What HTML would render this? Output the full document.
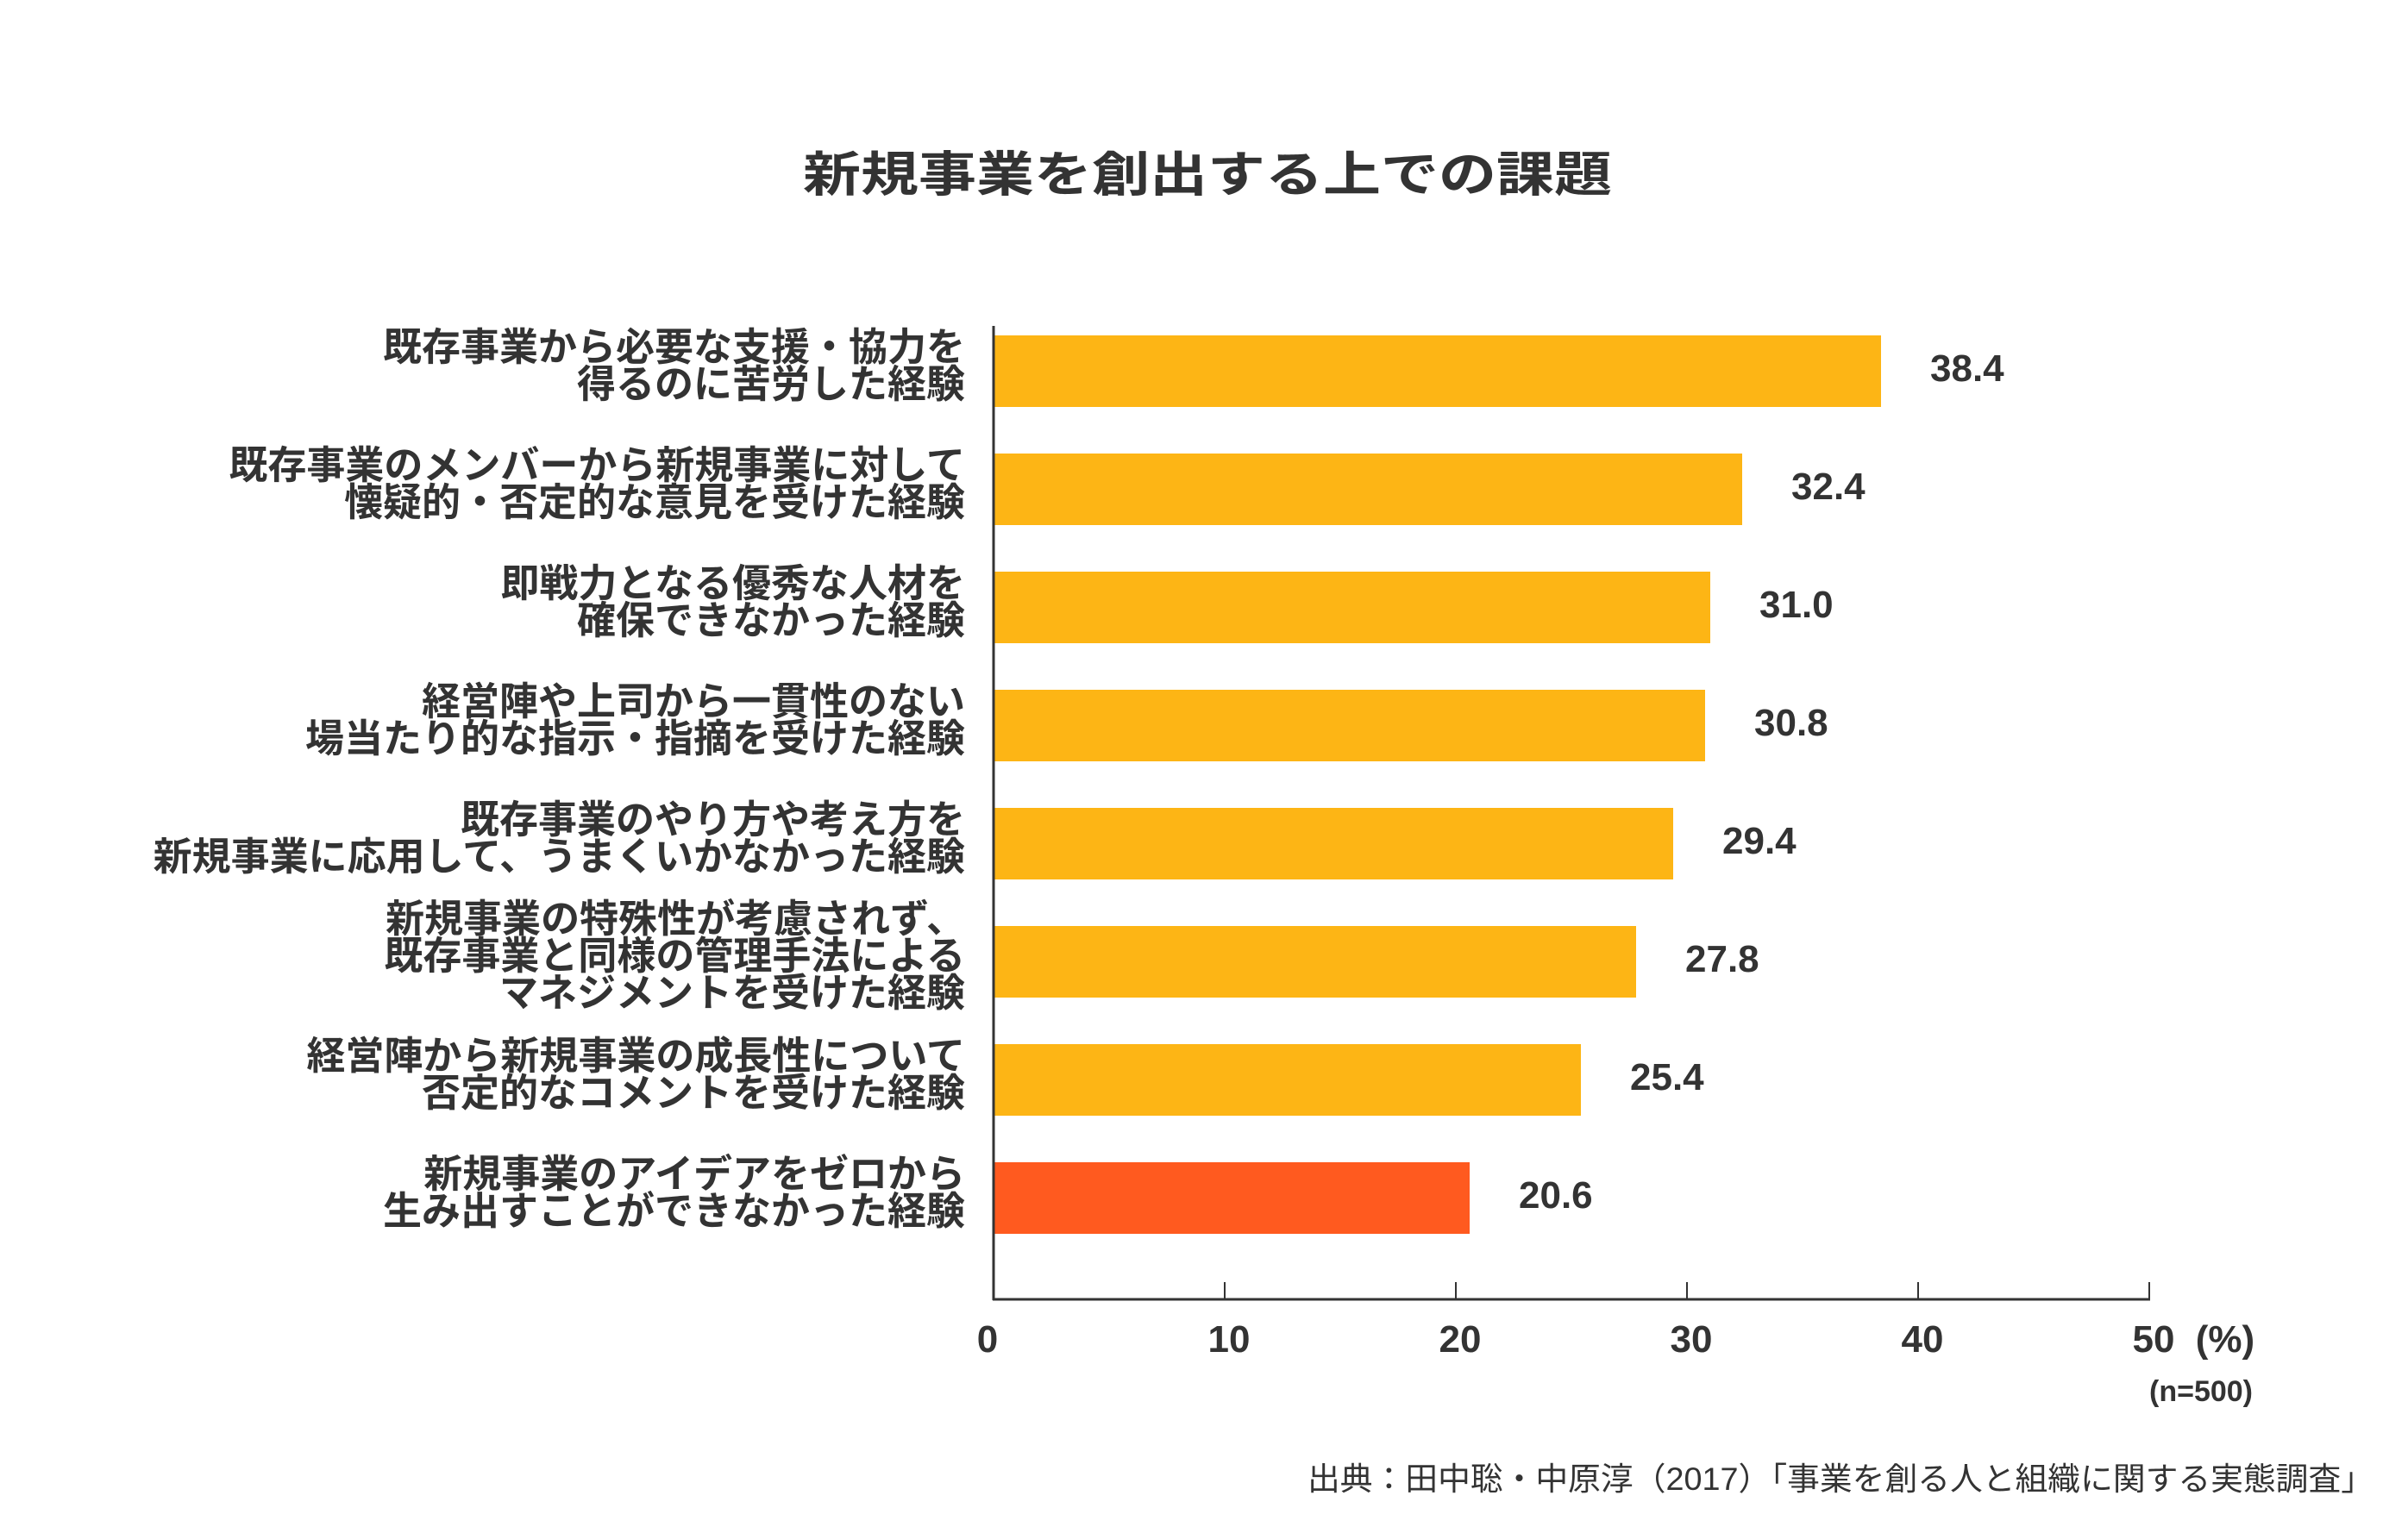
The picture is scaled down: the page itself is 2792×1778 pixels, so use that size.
<!DOCTYPE html>
<html><head><meta charset="utf-8"><style>
body{margin:0;background:#fff;}
svg text{font-family:"Liberation Sans","Noto Sans CJK JP",sans-serif;fill:#333;}
</style></head><body>
<svg width="2792" height="1773" viewBox="0 0 2792 1773" xmlns="http://www.w3.org/2000/svg">
<text x="1400" y="222" font-size="56" font-weight="bold" text-anchor="middle" textLength="938" lengthAdjust="spacingAndGlyphs">新規事業を創出する上での課題</text>
<g fill="#FDB515">
<rect x="1152" y="389" width="1029" height="83"/>
<rect x="1152" y="526" width="868" height="83"/>
<rect x="1152" y="663" width="831" height="83"/>
<rect x="1152" y="800" width="825" height="83"/>
<rect x="1152" y="937" width="788" height="83"/>
<rect x="1152" y="1074" width="745" height="83"/>
<rect x="1152" y="1211" width="681" height="83"/>
</g>
<rect x="1152" y="1348" width="552" height="83" fill="#FF5A1F"/>
<g stroke="#333" fill="none">
<line x1="1152" y1="378" x2="1152" y2="1508" stroke-width="3"/>
<line x1="1151" y1="1507" x2="2493" y2="1507" stroke-width="3"/>
<line x1="1420" y1="1487" x2="1420" y2="1507" stroke-width="2"/>
<line x1="1688" y1="1487" x2="1688" y2="1507" stroke-width="2"/>
<line x1="1956" y1="1487" x2="1956" y2="1507" stroke-width="2"/>
<line x1="2224" y1="1487" x2="2224" y2="1507" stroke-width="2"/>
<line x1="2492" y1="1487" x2="2492" y2="1507" stroke-width="2"/>
</g>
<g font-size="44" font-weight="bold">
<text x="2238" y="442">38.4</text>
<text x="2077" y="579">32.4</text>
<text x="2040" y="716">31.0</text>
<text x="2034" y="853">30.8</text>
<text x="1997" y="990">29.4</text>
<text x="1954" y="1127">27.8</text>
<text x="1890" y="1264">25.4</text>
<text x="1761" y="1401">20.6</text>
</g>
<g font-size="44" font-weight="bold" text-anchor="middle">
<text x="1145" y="1568">0</text>
<text x="1425" y="1568">10</text>
<text x="1693" y="1568">20</text>
<text x="1961" y="1568">30</text>
<text x="2229" y="1568">40</text>
<text x="2497" y="1568">50</text>
<text x="2580" y="1568">(%)</text>
</g>
<text x="2612" y="1625" font-size="34" font-weight="bold" text-anchor="end">(n=500)</text>
<text x="2752" y="1728" font-size="37" text-anchor="end" textLength="1236" lengthAdjust="spacingAndGlyphs">出典：田中聡・中原淳（2017）「事業を創る人と組織に関する実態調査」</text>
<g font-size="45" font-weight="bold" text-anchor="end">
<text x="1119" y="418">既存事業から必要な支援・協力を</text>
<text x="1119" y="461">得るのに苦労した経験</text>
<text x="1119" y="555">既存事業のメンバーから新規事業に対して</text>
<text x="1119" y="598">懐疑的・否定的な意見を受けた経験</text>
<text x="1119" y="692">即戦力となる優秀な人材を</text>
<text x="1119" y="735">確保できなかった経験</text>
<text x="1119" y="829">経営陣や上司から一貫性のない</text>
<text x="1119" y="872">場当たり的な指示・指摘を受けた経験</text>
<text x="1119" y="966">既存事業のやり方や考え方を</text>
<text x="1119" y="1009">新規事業に応用して、うまくいかなかった経験</text>
<text x="1119" y="1081">新規事業の特殊性が考慮されず、</text>
<text x="1119" y="1124">既存事業と同様の管理手法による</text>
<text x="1119" y="1167">マネジメントを受けた経験</text>
<text x="1119" y="1240">経営陣から新規事業の成長性について</text>
<text x="1119" y="1283">否定的なコメントを受けた経験</text>
<text x="1119" y="1377">新規事業のアイデアをゼロから</text>
<text x="1119" y="1420">生み出すことができなかった経験</text>
</g>
</svg>
</body></html>
